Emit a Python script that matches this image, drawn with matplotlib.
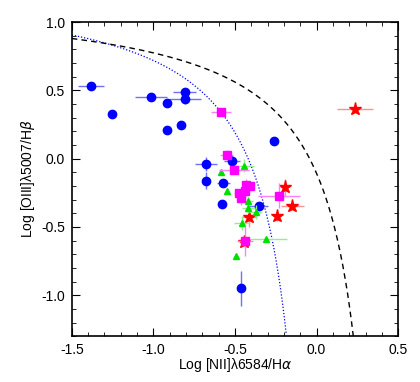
## BPT diagram
import numpy as np
import matplotlib
matplotlib.use('Agg')
import matplotlib.pyplot as plt
from matplotlib.ticker import MultipleLocator

plt.rcParams['font.family'] = ['Liberation Sans', 'DejaVu Sans']
plt.rcParams['mathtext.fontset'] = 'dejavusans'

## blue circles
blue_x = [-1.383, -1.255, -1.015, -0.917, -0.807, -0.807, -0.917, -0.83, -0.26,
          -0.678, -0.676, -0.573, -0.518, -0.58, -0.355, -0.463]
blue_y = [0.53, 0.33, 0.45, 0.41, 0.49, 0.44, 0.21, 0.25, 0.13,
          -0.04, -0.16, -0.18, -0.02, -0.33, -0.35, -0.95]
blue_xerr = [0.08, 0.0, 0.1, 0.0, 0.07, 0.1, 0.0, 0.0, 0.0,
             0.07, 0.0, 0.04, 0.05, 0.0, 0.06, 0.0]
blue_yerr = [0.0, 0.0, 0.0, 0.0, 0.02, 0.04, 0.0, 0.0, 0.0,
             0.05, 0.06, 0.02, 0.05, 0.0, 0.03, 0.13]

## magenta squares
mag_x = [-0.586, -0.55, -0.506, -0.43, -0.41, -0.475, -0.44, -0.463, -0.232, -0.44]
mag_y = [0.34, 0.03, -0.08, -0.19, -0.2, -0.25, -0.24, -0.29, -0.27, -0.6]
mag_xerr = [0.06, 0.04, 0.09, 0.0, 0.0, 0.03, 0.0, 0.0, 0.13, 0.05]
mag_yerr = [0.03, 0.03, 0.0, 0.04, 0.0, 0.0, 0.04, 0.05, 0.09, 0.11]

## green triangles
grn_x = [-0.445, -0.585, -0.55, -0.42, -0.42, -0.373, -0.457, -0.31, -0.496]
grn_y = [-0.05, -0.1, -0.24, -0.31, -0.36, -0.39, -0.47, -0.59, -0.71]
grn_xerr = [0.06, 0.0, 0.0, 0.03, 0.04, 0.04, 0.05, 0.13, 0.0]
grn_yerr = [0.05, 0.0, 0.0, 0.04, 0.04, 0.05, 0.05, 0.0, 0.0]

## red stars
red_x = [0.236, -0.193, -0.15, -0.244, -0.414, -0.445]
red_y = [0.365, -0.21, -0.35, -0.42, -0.43, -0.61]
red_xerr = [0.11, 0.0, 0.07, 0.0, 0.04, 0.0]
red_yerr = [0.0, 0.06, 0.0, 0.04, 0.07, 0.0]

## demarcation lines (Kauffmann 2003, Kewley 2001)
ka_a, ka_b, ka_c = 0.61, 0.05, 1.3
ke_a, ke_b, ke_c = 0.61, 0.47, 1.19

fig = plt.figure(figsize=(4.2, 3.82), dpi=100)
ax = fig.add_axes([0.171, 0.12, 0.777, 0.822])

xk = np.linspace(-1.5, -0.186, 300)
ax.plot(xk, ka_a / (xk - ka_b) + ka_c, color='blue', lw=0.9, dashes=(1, 1.5))
xw = np.linspace(-1.5, 0.225, 300)
ax.plot(xw, ke_a / (xw - ke_b) + ke_c, color='black', lw=1.0, dashes=(4, 3))

def pts(x, y, xe, ye, c, ec, m, s):
    ax.errorbar(x, y, xerr=xe, yerr=ye, fmt='none', ecolor=ec, elinewidth=1.0, capsize=0)
    ax.plot(x, y, m, color=c, ms=s, mec=c, ls='none')

pts(red_x, red_y, red_xerr, red_yerr, 'red', '#ff9090', '*', 9.5)
pts(blue_x, blue_y, blue_xerr, blue_yerr, 'blue', '#7070ff', 'o', 6)
pts(grn_x, grn_y, grn_xerr, grn_yerr, '#00e000', '#90f090', '^', 5)
pts(mag_x, mag_y, mag_xerr, mag_yerr, 'magenta', '#ff80ff', 's', 6)

ax.set_xlim(-1.5, 0.5)
ax.set_ylim(-1.3, 1.0)
ax.xaxis.set_major_locator(MultipleLocator(0.5))
ax.xaxis.set_minor_locator(MultipleLocator(0.1))
ax.yaxis.set_major_locator(MultipleLocator(0.5))
ax.yaxis.set_minor_locator(MultipleLocator(0.1))
ax.xaxis.set_major_formatter(plt.FuncFormatter(lambda v, p: '%.1f' % v))
ax.yaxis.set_major_formatter(plt.FuncFormatter(lambda v, p: '%.1f' % v))
ax.tick_params(which='both', direction='in', top=True, right=True, labelsize=10)
ax.tick_params(which='major', length=6, pad=5)
ax.tick_params(which='minor', length=3)
for sp in ax.spines.values():
    sp.set_linewidth(1.2)

ax.set_xlabel(r'Log [NII]λ6584/H$\alpha$', fontsize=10, labelpad=-1)
ax.set_ylabel(r'Log [OIII]λ5007/H$\beta$', fontsize=10, labelpad=3)

plt.savefig('out.png', dpi=100)
